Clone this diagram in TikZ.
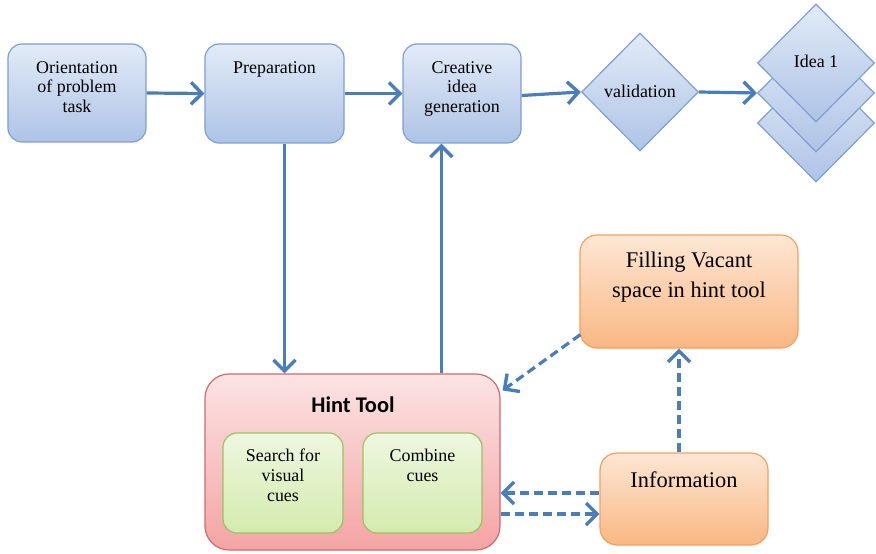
\documentclass[tikz,border=0pt]{standalone}
\usepackage{fontspec}
\setmainfont{Liberation Serif}
\newfontfamily\titlefont{Carlito}
\usetikzlibrary{arrows.meta,shapes.geometric,calc}

\definecolor{flowblue}{HTML}{4A7EBB}
\definecolor{bluetop}{HTML}{E2EBF7}
\definecolor{bluebot}{HTML}{AEC3E6}
\definecolor{blueedge}{HTML}{7D9FD3}
\definecolor{redtop}{HTML}{FCE4E4}
\definecolor{redbot}{HTML}{F4A3A3}
\definecolor{rededge}{HTML}{CF6B6B}
\definecolor{greentop}{HTML}{EEF7E0}
\definecolor{greenbot}{HTML}{D3EBAE}
\definecolor{greenedge}{HTML}{9BC35E}
\definecolor{orangetop}{HTML}{FDE7D4}
\definecolor{orangebot}{HTML}{F9B783}
\definecolor{orangeedge}{HTML}{F2A160}

\tikzset{
  bluebox/.style={draw=blueedge, line width=1.2bp, rounded corners=14bp,
    top color=bluetop, bottom color=bluebot, inner sep=0pt},
  bluediamond/.style={diamond, draw=blueedge, line width=1.2bp,
    top color=bluetop, bottom color=bluebot, inner sep=0pt,
    minimum width=117bp, minimum height=118bp},
  redbox/.style={draw=rededge, line width=1.2bp, rounded corners=24bp,
    top color=redtop, bottom color=redbot, inner sep=0pt},
  greenbox/.style={draw=greenedge, line width=1.2bp, rounded corners=14bp,
    top color=greentop, bottom color=greenbot, inner sep=0pt},
  orangebox/.style={draw=orangeedge, line width=1.2bp, rounded corners=17bp,
    top color=orangetop, bottom color=orangebot, inner sep=0pt},
  txt/.style={align=center, font=\fontsize{18}{20}\selectfont, inner sep=0pt},
  bigtxt/.style={align=center, font=\fontsize{22.5}{30}\selectfont, inner sep=0pt},
  flow/.style={draw=flowblue, line width=3.2bp,
    -{Straight Barb[length=11bp, width=22bp, line width=3.4bp]}},
  dflow/.style={flow, dash pattern=on 9bp off 5bp},
}

\begin{document}
\begin{tikzpicture}[x=1bp, y=-1bp]
  \useasboundingbox (0,0) rectangle (876,554);

  % top row
  \node[bluebox, minimum width=138bp, minimum height=98bp] (orient) at (77,93) {};
  \node[txt, anchor=north] (orientT) at (77,61) {Orientation\\of problem\\task};
  \node[bluebox, minimum width=139bp, minimum height=99bp] (prep) at (274.5,93.5) {};
  \node[txt, anchor=north] (prepT) at (274.5,61) {Preparation};
  \node[bluebox, minimum width=118bp, minimum height=99bp] (creative) at (462,93.5) {};
  \node[txt, anchor=north] (creativeT) at (462,61) {Creative\\idea\\generation};
  \node[bluediamond] (valid) at (640,92) {};
  \node[txt] (validT) at (640,91) {validation};

  % stacked idea diamonds
  \node[bluediamond] (idea3) at (816,123) {};
  \node[bluediamond] (idea2) at (816,93) {};
  \node[bluediamond] (idea1) at (816,63) {};
  \node[txt] (ideaT) at (816,61) {Idea 1};

  % hint tool
  \node[redbox, minimum width=295bp, minimum height=176bp] (hint) at (352.5,462) {};
  \node[inner sep=0pt, font=\titlefont\bfseries\fontsize{22.5}{26}\selectfont] (hintT) at (353,405) {Hint Tool};
  \node[greenbox, minimum width=120bp, minimum height=100bp] (search) at (283,483) {};
  \node[txt, anchor=north] (searchT) at (283,449) {Search for\\visual\\cues};
  \node[greenbox, minimum width=119bp, minimum height=100bp] (combine) at (422.5,483) {};
  \node[txt, anchor=north] (combineT) at (422.5,449) {Combine\\cues};

  % orange boxes
  \node[orangebox, minimum width=218bp, minimum height=113bp] (fill) at (689,291.5) {};
  \node[bigtxt, anchor=north] (fillT) at (689,252) {Filling Vacant\\space in hint tool};
  \node[orangebox, minimum width=168bp, minimum height=92bp] (info) at (684,499) {};
  \node[bigtxt] (infoT) at (684,480) {Information};

  % solid connectors
  \draw[flow] (orient.east) -- (prep.west);
  \draw[flow] (prep.east) -- (creative.west);
  \draw[flow] ([yshift=-2bp]creative.east) -- (valid.west);
  \draw[flow] (valid.east) -- (idea2.west);
  \draw[flow] ([xshift=10bp]prep.south) -- ([xshift=10bp]prep.south |- hint.north);
  \draw[flow] ([xshift=39bp]creative.south west |- hint.north) -- ([xshift=39bp]creative.south west);

  % dashed connectors
  \coordinate (fillOut) at ($(fill.south west)+(1,-14)$);
  \coordinate (hintIn) at ($(hint.north east)+(2,17)$);
  \draw[dflow] (fillOut) -- (hintIn);
  \draw[dflow] (info.north -| 679,0) -- (fill.south -| 679,0);
  \draw[dflow] (info.west |- 0,493) -- (hint.east |- 0,493);
  \draw[dflow] (hint.east |- 0,514) -- (info.west |- 0,514);
\end{tikzpicture}
\end{document}
